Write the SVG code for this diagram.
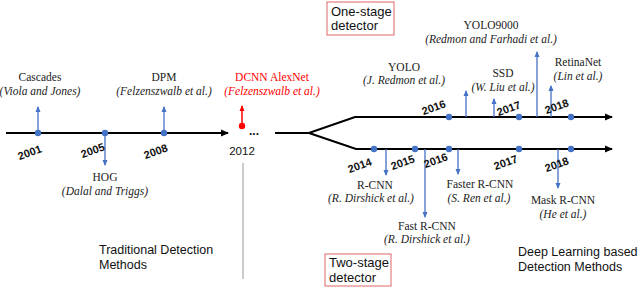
<svg xmlns="http://www.w3.org/2000/svg" width="640" height="288" viewBox="0 0 640 288">
<defs>
<marker id="ah" markerWidth="8" markerHeight="8" refX="7" refY="4" orient="auto" markerUnits="userSpaceOnUse"><path d="M0,0.5 L8,4 L0,7.5 Z" fill="#000"/></marker>
<marker id="ab" markerWidth="6" markerHeight="6" refX="5" refY="3" orient="auto" markerUnits="userSpaceOnUse"><path d="M0,0.5 L6,3 L0,5.5 Z" fill="#4472c4"/></marker>
<marker id="ar" markerWidth="6" markerHeight="6" refX="5" refY="3" orient="auto" markerUnits="userSpaceOnUse"><path d="M0,0.5 L6,3 L0,5.5 Z" fill="#ff0000"/></marker>
</defs>
<style>
.tl{stroke:#000;stroke-width:2.2;fill:none}
.ba{stroke:#4472c4;stroke-width:1.3;marker-end:url(#ab)}
.dot{fill:#4472c4}
.lb{font-family:"Liberation Serif","DejaVu Serif",serif;font-size:11.5px;fill:#222;text-anchor:middle}
.ct{font-family:"Liberation Serif","DejaVu Serif",serif;font-size:11.5px;font-style:italic;fill:#222;text-anchor:middle}
.yr{font-family:"Liberation Sans",Arial,sans-serif;font-size:11px;font-weight:bold;fill:#111;text-anchor:middle}
.ti{font-family:"Liberation Sans",Arial,sans-serif;font-size:12.5px;fill:#111}
.bt{font-family:"Liberation Sans",Arial,sans-serif;font-size:13px;fill:#111}
.bx{fill:#fff;stroke:#e06666;stroke-width:1}
.red{fill:#ff0000}
</style>
<rect width="640" height="288" fill="#fff"/>

<g id="connectors">
<line class="tl" x1="6" y1="133" x2="228" y2="133" marker-end="url(#ah)"/>
<polyline class="tl" points="275,133 309,133 355,117 612,117" marker-end="url(#ah)"/>
<polyline class="tl" points="309,133 356,149 612,149" marker-end="url(#ah)"/>
<line x1="243" y1="163" x2="243" y2="279" stroke="#999" stroke-width="1"/>
<line class="ba" x1="38" y1="133" x2="38" y2="107"/>
<line class="ba" x1="105" y1="133" x2="105" y2="165"/>
<line class="ba" x1="164" y1="133" x2="164" y2="107"/>
<line x1="242" y1="126" x2="242" y2="106" stroke="#ff0000" stroke-width="1.5" marker-end="url(#ar)"/>
<line class="ba" x1="466" y1="117" x2="466" y2="91"/>
<line class="ba" x1="494" y1="117" x2="494" y2="99"/>
<line class="ba" x1="537" y1="117" x2="537" y2="52"/>
<line class="ba" x1="551" y1="117" x2="551" y2="86"/>
<line class="ba" x1="386" y1="149" x2="386" y2="175"/>
<line class="ba" x1="425" y1="149" x2="425" y2="217"/>
<line class="ba" x1="458" y1="149" x2="458" y2="174"/>
<line class="ba" x1="558" y1="149" x2="558" y2="188"/>
</g>

<g id="traditional">
<circle class="dot" cx="38" cy="133" r="3.2"/>
<circle class="dot" cx="105" cy="133" r="3.2"/>
<circle class="dot" cx="164" cy="133" r="3.2"/>
<text class="yr" x="31" y="156" transform="rotate(-20 31 156)">2001</text>
<text class="yr" x="94" y="154" transform="rotate(-20 94 154)">2005</text>
<text class="yr" x="157" y="155" transform="rotate(-20 157 155)">2008</text>
</g>
<g id="cascades"><text class="lb" x="40" y="81">Cascades</text><text class="ct" x="40" y="95">(Viola and Jones)</text></g>
<g id="hog"><text class="lb" x="105" y="181">HOG</text><text class="ct" x="105" y="195">(Dalal and Triggs)</text></g>
<g id="dpm"><text class="lb" x="164" y="81">DPM</text><text class="ct" x="164" y="95">(Felzenszwalb et al.)</text></g>

<g id="dcnn">
<circle cx="242" cy="126" r="3.2" class="red"/>
<text x="254" y="135" font-family="Liberation Sans,Arial,sans-serif" font-size="12" font-weight="bold" fill="#111" text-anchor="middle">...</text>
<text x="242" y="155" font-family="Liberation Sans,Arial,sans-serif" font-size="11.5" fill="#111" text-anchor="middle">2012</text>
<text class="lb" x="272" y="81" style="fill:#ff0000">DCNN AlexNet</text>
<text class="ct" x="272" y="95" style="fill:#ff0000">(Felzenszwalb et al.)</text>
</g>

<g id="one-stage">
<circle class="dot" cx="449" cy="117" r="3.2"/>
<circle class="dot" cx="519" cy="117" r="3.2"/>
<circle class="dot" cx="571" cy="117" r="3.2"/>
<text class="yr" x="435" y="111" transform="rotate(-20 435 111)">2016</text>
<text class="yr" x="510" y="112" transform="rotate(-20 510 112)">2017</text>
<text class="yr" x="558" y="110" transform="rotate(-20 558 110)">2018</text>
</g>
<g id="yolo"><text class="lb" x="404" y="71">YOLO</text><text class="ct" x="404" y="84">(J. Redmon et al.)</text></g>
<g id="ssd"><text class="lb" x="503" y="77">SSD</text><text class="ct" x="503" y="91">(W. Liu et al.)</text></g>
<g id="yolo9000"><text class="lb" x="491" y="29">YOLO9000</text><text class="ct" x="491" y="43">(Redmon and Farhadi et al.)</text></g>
<g id="retinanet"><text class="lb" x="578" y="66">RetinaNet</text><text class="ct" x="578" y="80">(Lin et al.)</text></g>

<g id="two-stage">
<circle class="dot" cx="374" cy="149" r="3.2"/>
<circle class="dot" cx="415" cy="149" r="3.2"/>
<circle class="dot" cx="449" cy="149" r="3.2"/>
<circle class="dot" cx="519" cy="149" r="3.2"/>
<circle class="dot" cx="571" cy="149" r="3.2"/>
<text class="yr" x="361" y="169" transform="rotate(-20 361 169)">2014</text>
<text class="yr" x="404" y="166" transform="rotate(-20 404 166)">2015</text>
<text class="yr" x="437" y="164" transform="rotate(-20 437 164)">2016</text>
<text class="yr" x="507" y="166" transform="rotate(-20 507 166)">2017</text>
<text class="yr" x="558" y="168" transform="rotate(-20 558 168)">2018</text>
</g>
<g id="rcnn"><text class="lb" x="375" y="189">R-CNN</text><text class="ct" x="371" y="202">(R. Dirshick et al.)</text></g>
<g id="fast-rcnn"><text class="lb" x="427" y="230">Fast R-CNN</text><text class="ct" x="427" y="243">(R. Dirshick et al.)</text></g>
<g id="faster-rcnn"><text class="lb" x="480" y="188">Faster R-CNN</text><text class="ct" x="479" y="202">(S. Ren et al.)</text></g>
<g id="mask-rcnn"><text class="lb" x="563" y="204">Mask R-CNN</text><text class="ct" x="563" y="218">(He et al.)</text></g>

<g id="one-stage-box"><rect class="bx" x="327" y="2" width="67" height="33"/><text class="bt" x="331" y="16">One-stage</text><text class="bt" x="331" y="30">detector</text></g>
<g id="two-stage-box"><rect class="bx" x="325" y="254" width="66" height="32"/><text class="bt" x="329" y="267">Two-stage</text><text class="bt" x="329" y="282">detector</text></g>
<g id="traditional-title"><text class="ti" x="99" y="254">Traditional Detection</text><text class="ti" x="99" y="269">Methods</text></g>
<g id="deep-title"><text class="ti" x="518" y="256">Deep Learning based</text><text class="ti" x="518" y="271">Detection Methods</text></g>
</svg>
